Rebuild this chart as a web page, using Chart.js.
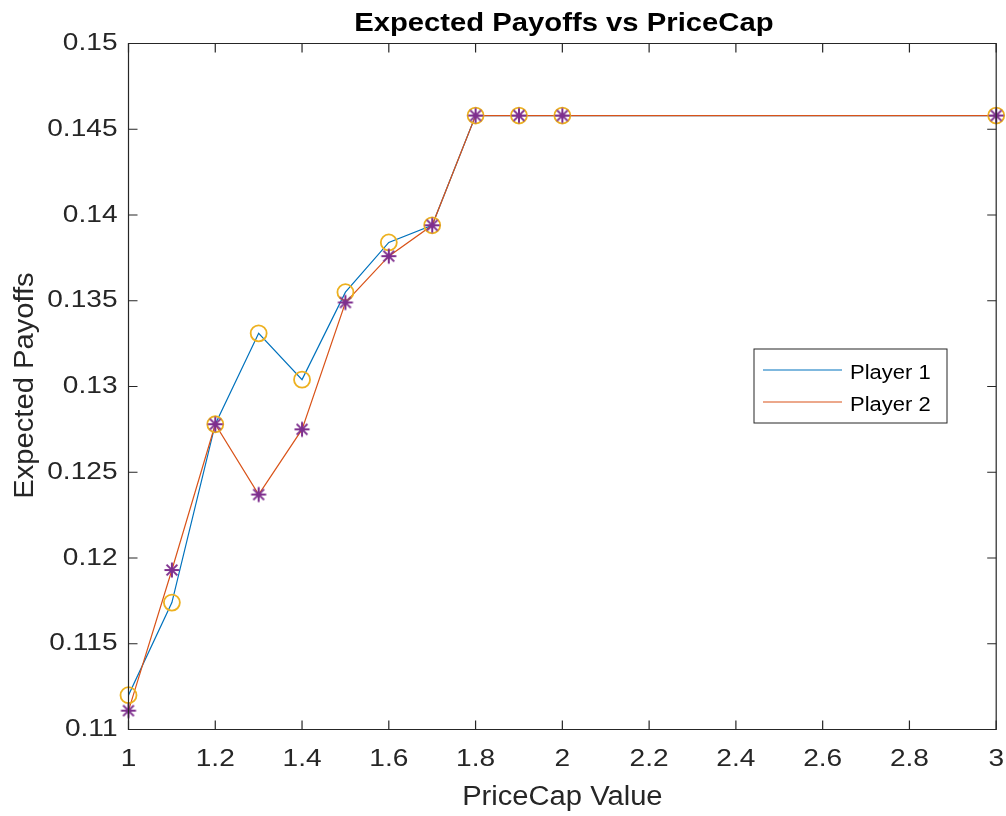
<!DOCTYPE html>
<html>
<head>
<meta charset="utf-8">
<script src="https://cdn.jsdelivr.net/npm/chart.js@4.4.1/dist/chart.umd.min.js"></script>
<style>
  html, body { margin: 0; padding: 0; background: #ffffff; }
  #wrap { width: 1006px; height: 816px; }
</style>
</head>
<body>
<div id="wrap"><canvas id="c" width="1006" height="816"></canvas></div>
<script>
// Price cap values (x axis)
const priceCap = [1, 1.1, 1.2, 1.3, 1.4, 1.5, 1.6, 1.7, 1.8, 1.9, 2, 3];
// Expected payoffs for each player
const player1 = [0.1120, 0.1174, 0.1278, 0.1331, 0.1304, 0.1355, 0.1384, 0.1394, 0.1458, 0.1458, 0.1458, 0.1458];
const player2 = [0.1111, 0.1193, 0.1278, 0.1237, 0.1275, 0.1349, 0.1376, 0.1394, 0.1458, 0.1458, 0.1458, 0.1458];
// Tick labels
const xTicks = ['1', '1.2', '1.4', '1.6', '1.8', '2', '2.2', '2.4', '2.6', '2.8', '3'];
const yTicks = ['0.11', '0.115', '0.12', '0.125', '0.13', '0.135', '0.14', '0.145', '0.15'];
const seriesNames = ['Player 1', 'Player 2'];
const titleText = 'Expected Payoffs vs PriceCap';
const xLabel = 'PriceCap Value';
const yLabel = 'Expected Payoffs';

const FONT = '"Liberation Sans", Arial, Helvetica, sans-serif';
const AXIS_COLOR = '#262626';
const C_BLUE = '#0072BD', C_ORANGE = '#D95319', C_YELLOW = '#EDB120', C_PURPLE = '#7E2F8E';
const TICK_STRETCH = 1.17;   // wide lettering for tick labels and title
const LABEL_STRETCH = 1.08;  // axis titles and legend

let textStretch = TICK_STRETCH;
const pts = ys => priceCap.map((x, i) => ({ x: x, y: ys[i] }));

const canvas = document.getElementById('c');
const ctx0 = canvas.getContext('2d');
// Draw text a little wider than the face's natural proportions
ctx0.fillText = function (t, x, y) {
  this.save();
  this.translate(x, y);
  this.scale(textStretch, 1);
  CanvasRenderingContext2D.prototype.fillText.call(this, t, 0, 0);
  this.restore();
};

// Asterisk marker
function starMarker(color) {
  const s = 22, c = document.createElement('canvas');
  c.width = s; c.height = s;
  const g = c.getContext('2d');
  g.strokeStyle = color; g.lineWidth = 2;
  const r = 7.5, m = s / 2, d = r * 0.72;
  g.beginPath();
  g.moveTo(m - r, m); g.lineTo(m + r, m);
  g.moveTo(m, m - r); g.lineTo(m, m + r);
  g.moveTo(m - d, m - d); g.lineTo(m + d, m + d);
  g.moveTo(m - d, m + d); g.lineTo(m + d, m - d);
  g.stroke();
  return c;
}

// Axes box, inward ticks, titles and legend
const framePlugin = {
  id: 'frame',
  beforeDraw() { textStretch = TICK_STRETCH; },
  afterDraw(chart) {
    const { ctx, chartArea: a, scales } = chart;
    const xs = scales.x, ys = scales.y;
    ctx.save();
    ctx.strokeStyle = AXIS_COLOR;
    ctx.lineWidth = 1.2;
    ctx.beginPath();
    ctx.rect(a.left, a.top, a.right - a.left, a.bottom - a.top);
    ctx.stroke();
    const tl = 9;
    ctx.beginPath();
    xTicks.forEach(t => {
      const px = xs.getPixelForValue(parseFloat(t));
      ctx.moveTo(px, a.bottom); ctx.lineTo(px, a.bottom - tl);
      ctx.moveTo(px, a.top); ctx.lineTo(px, a.top + tl);
    });
    yTicks.forEach(t => {
      const py = ys.getPixelForValue(parseFloat(t));
      ctx.moveTo(a.left, py); ctx.lineTo(a.left + tl, py);
      ctx.moveTo(a.right, py); ctx.lineTo(a.right - tl, py);
    });
    ctx.stroke();

    // chart title
    textStretch = TICK_STRETCH;
    ctx.fillStyle = '#000000';
    ctx.font = 'bold 25px ' + FONT;
    ctx.textAlign = 'center';
    ctx.textBaseline = 'alphabetic';
    ctx.fillText(titleText, (a.left + a.right) / 2 + 1.5, 31);

    // axis titles
    textStretch = LABEL_STRETCH;
    ctx.fillStyle = AXIS_COLOR;
    ctx.font = '27px ' + FONT;
    ctx.fillText(xLabel, (a.left + a.right) / 2, 805);
    ctx.save();
    ctx.translate(33, (a.top + a.bottom) / 2 - 1);
    ctx.rotate(-Math.PI / 2);
    ctx.fillText(yLabel, 0, 0);
    ctx.restore();

    // legend
    const lx = a.left + 625.5, ly = a.top + 305.5, lw = 193, lh = 74;
    ctx.fillStyle = '#ffffff';
    ctx.fillRect(lx, ly, lw, lh);
    ctx.strokeStyle = AXIS_COLOR;
    ctx.lineWidth = 1;
    ctx.strokeRect(lx, ly, lw, lh);
    const colors = [C_BLUE, C_ORANGE];
    textStretch = 1.1;
    seriesNames.forEach((name, i) => {
      const yy = ly + 21 + i * 32;
      ctx.strokeStyle = colors[i];
      ctx.lineWidth = 1.2;
      ctx.beginPath();
      ctx.moveTo(lx + 9, yy); ctx.lineTo(lx + 88, yy);
      ctx.stroke();
      ctx.fillStyle = '#000000';
      ctx.font = '20px ' + FONT;
      ctx.textAlign = 'left';
      ctx.textBaseline = 'alphabetic';
      ctx.fillText(name, lx + 96, yy + 9);
    });
    textStretch = TICK_STRETCH;
    ctx.restore();
  }
};

const chart = new Chart(canvas, {
  type: 'line',
  data: {
    datasets: [
      { label: seriesNames[0], data: pts(player1), borderColor: C_BLUE, borderWidth: 1.2, pointRadius: 0, fill: false, tension: 0, order: 4 },
      { label: seriesNames[1], data: pts(player2), borderColor: C_ORANGE, borderWidth: 1.2, pointRadius: 0, fill: false, tension: 0, order: 3 },
      { label: '_p1', data: pts(player1), showLine: false, pointStyle: 'circle', pointRadius: 8, borderColor: C_YELLOW, backgroundColor: 'rgba(0,0,0,0)', pointBorderWidth: 1.8, clip: false, order: 2 },
      { label: '_p2', data: pts(player2), showLine: false, pointStyle: starMarker(C_PURPLE), pointRadius: 8, clip: false, order: 1 }
    ]
  },
  options: {
    responsive: false,
    animation: false,
    devicePixelRatio: 1,
    layout: { padding: { left: 0, right: 9.5, top: 43.5, bottom: 0 } },
    plugins: { legend: { display: false }, tooltip: { enabled: false }, title: { display: false } },
    elements: { line: { borderJoinStyle: 'miter' } },
    scales: {
      x: {
        type: 'linear', min: 1, max: 3,
        afterFit(s) { s.height = 86.5; s.paddingLeft = 0; s.paddingRight = 0; },
        afterBuildTicks(s) { s.ticks = xTicks.map(t => ({ value: parseFloat(t) })); },
        grid: { display: false, drawTicks: false },
        border: { display: false },
        ticks: { color: AXIS_COLOR, font: { family: FONT, size: 24 }, padding: 15, maxRotation: 0, autoSkip: false,
          callback: (v, i) => xTicks[i] }
      },
      y: {
        type: 'linear', min: 0.11, max: 0.15,
        afterFit(s) { s.width = 128.5; s.paddingTop = 0; s.paddingBottom = 0; },
        afterBuildTicks(s) { s.ticks = yTicks.map(t => ({ value: parseFloat(t) })); },
        grid: { display: false, drawTicks: false },
        border: { display: false },
        ticks: { color: AXIS_COLOR, font: { family: FONT, size: 24 }, padding: 11, autoSkip: false,
          callback: (v, i) => yTicks[i] }
      }
    }
  },
  plugins: [framePlugin]
});
</script>
</body>
</html>
